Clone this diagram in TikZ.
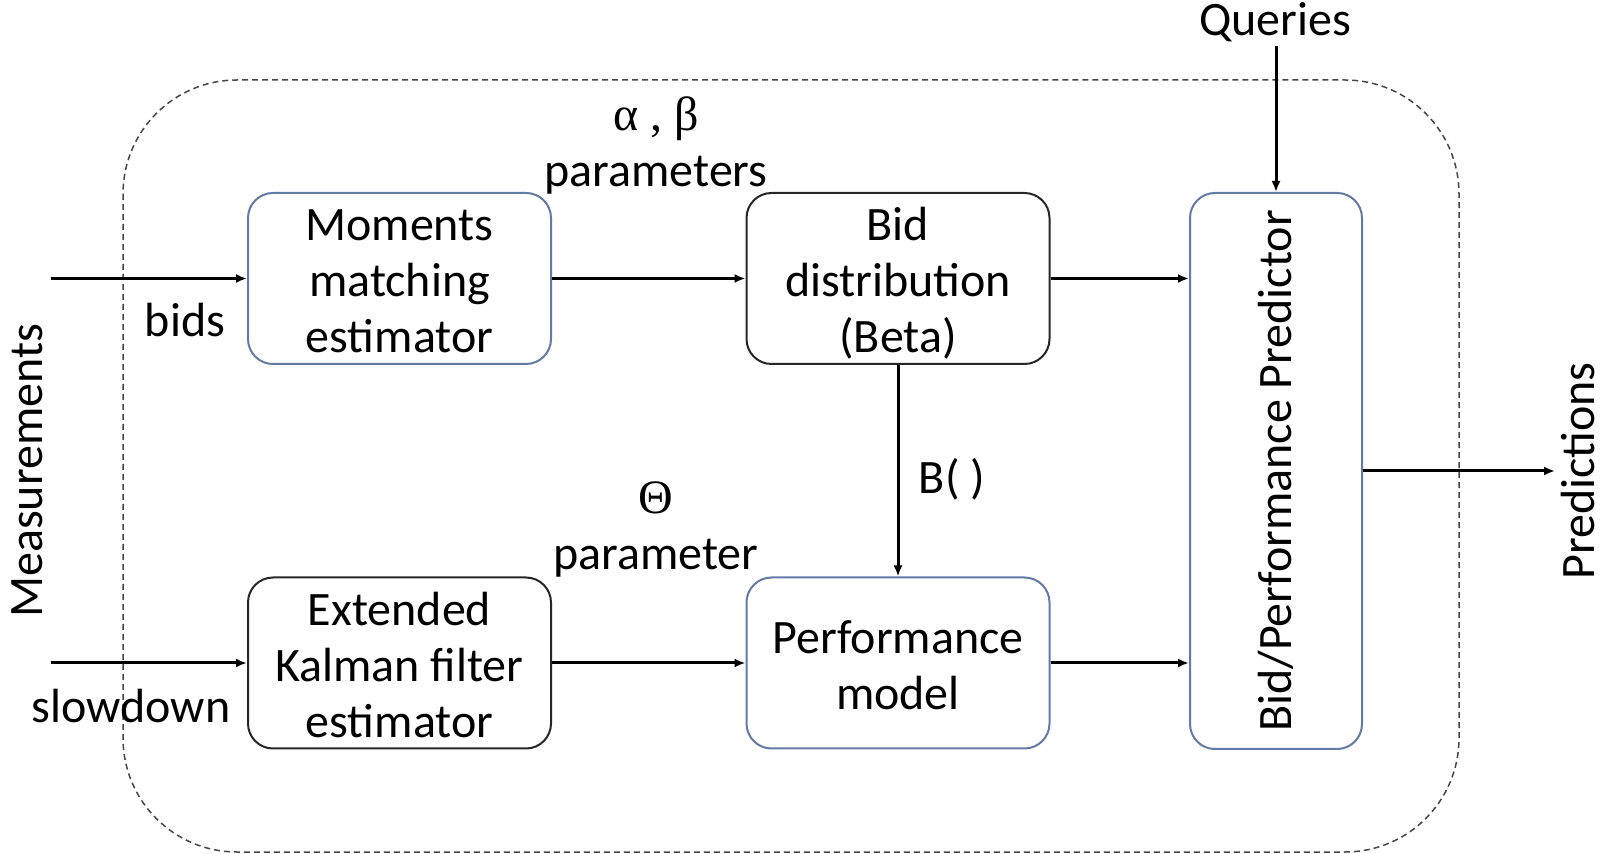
\documentclass[tikz,border=0pt]{standalone}
\usepackage{fontspec}
\setmainfont{Carlito}
\newfontfamily\greekfont{Liberation Serif}
\usetikzlibrary{arrows.meta}
\definecolor{boxblue}{RGB}{98,122,164}
\definecolor{dashgray}{RGB}{70,70,70}
% struts that give every block the same first-line height and last-line depth
\newcommand{\toprow}{\rule{0pt}{23.5pt}}
\newcommand{\lastrow}{\rule[-5pt]{0pt}{5pt}}

\begin{document}
\begin{tikzpicture}[x=0.5pt,y=-0.5pt,
  every node/.style={font=\fontsize{24}{28}\selectfont, inner sep=0pt},
  blockbox/.style={draw, fill=white, rounded corners=12.5pt, line width=1pt,
    minimum width=151.5pt, minimum height=85.5pt, align=center},
  bluebox/.style={blockbox, draw=boxblue},
  blackbox/.style={blockbox, draw=black!85},
  flow/.style={line width=1.5pt, -{Latex[length=5.5pt,width=4.5pt]}},
  lbl/.style={anchor=base},
]
\useasboundingbox (0,0) rectangle (1606,854);

% system boundary
\draw[dashgray, line width=0.75pt, dash pattern=on 3pt off 2pt, rounded corners=57pt]
  (123,80) rectangle (1459,852);

% processing blocks
\node[bluebox]  (mom)  at (399.5,278.5) {\toprow Moments\\matching\\estimator\lastrow};
\node[blackbox] (bid)  at (898,278.5)   {\toprow Bid\\distribution\\(Beta)\lastrow};
\node[blackbox] (ekf)  at (399.5,663)   {\toprow Extended\\Kalman filter\\estimator\lastrow};
\node[bluebox]  (perf) at (898,663)     {\toprow Performance\\model\lastrow};
\node[bluebox, rotate=90, minimum width=278pt, minimum height=86pt]
  (pred) at (1276,471) {Bid/Performance Predictor};

% free ends
\coordinate (inbids) at (51,278.5);
\coordinate (inslow) at (51,663);
\coordinate (qtop)   at (1276,46);
\coordinate (outp)   at (1555,471);

% connectors
\draw[flow] (inbids) -- (mom.west);
\draw[flow] (inslow) -- (ekf.west);
\draw[flow] (mom.east) -- (bid.west);
\draw[flow] (ekf.east) -- (perf.west);
\draw[flow] (bid.south) -- (perf.north);
\draw[flow] (bid.east) -- (bid.east -| pred.north);
\draw[flow] (perf.east) -- (perf.east -| pred.north);
\draw[flow] (qtop) -- (pred.east);
\draw[flow] (pred.south) -- (outp);

% labels
\node[lbl] (bids)    at (185,337)  {bids};
\node[lbl] (slow)    at (131,723)  {slowdown};
\node[lbl] (ab)      at (656,131)  {\greekfont α , β};
\node[lbl] (params)  at (656,187)  {parameters};
\node[lbl] (theta)   at (656,514)  {\greekfont Θ};
\node[lbl] (param)   at (656,570)  {parameter};
\node[lbl] (bfun)    at (952,494)  {B( )};
\node[lbl] (queries) at (1275,36)  {Queries};
\node[rotate=90, anchor=base] (meas) at (42,471)   {Measurements};
\node[rotate=90, anchor=base] (outl) at (1594,471) {Predictions};
\end{tikzpicture}
\end{document}
